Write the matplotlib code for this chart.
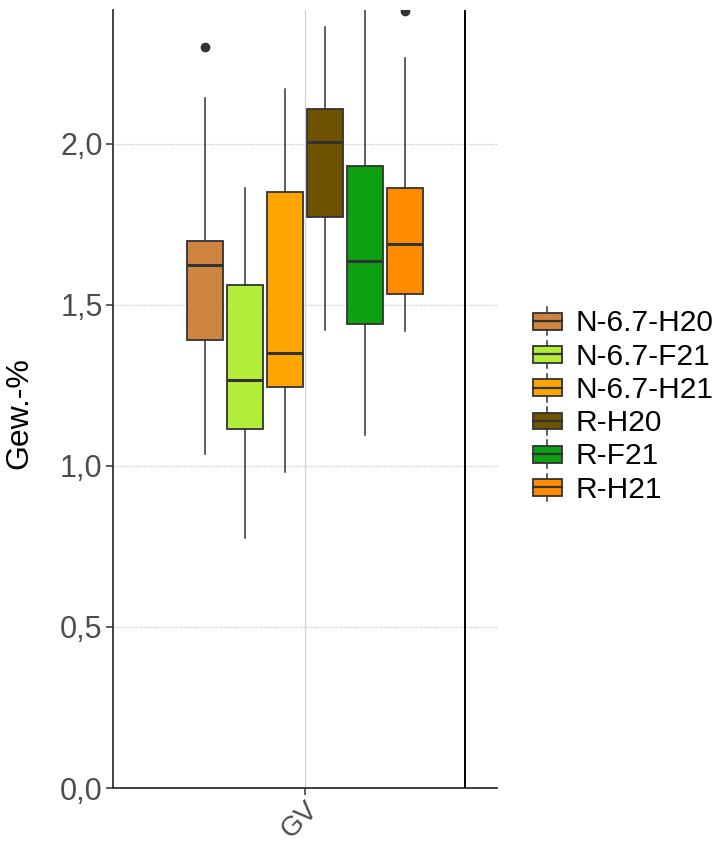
import matplotlib
matplotlib.use('Agg')
import matplotlib.pyplot as plt
from matplotlib.legend_handler import HandlerBase
from matplotlib.lines import Line2D
from matplotlib.patches import Patch, Rectangle

plt.rcParams['font.family'] = ['Liberation Sans', 'DejaVu Sans']

# values
groups = ['N-6.7-H20', 'N-6.7-F21', 'N-6.7-H21', 'R-H20', 'R-F21', 'R-H21']
colors = ['#CD853F', '#B3EE3A', '#FFA500', '#6E5200', '#0DA111', '#FF8C00']
whislo = [1.036, 0.776, 0.981, 1.422, 1.096, 1.419]
q1 = [1.392, 1.115, 1.245, 1.774, 1.441, 1.535]
med = [1.624, 1.266, 1.351, 2.005, 1.638, 1.689]
q3 = [1.700, 1.562, 1.851, 2.109, 1.931, 1.864]
whishi = [2.143, 1.862, 2.171, 2.364, 2.450, 2.267]
fliers = [[2.302], [], [], [], [], [2.413]]
category = 'GV'
yticks = [0.0, 0.5, 1.0, 1.5, 2.0]

EDGE = '#333333'


class BoxKey(HandlerBase):
    def create_artists(self, legend, orig, xd, yd, w, h, fs, trans):
        cx = -xd + w / 2
        y0 = -yd
        bh = h * 0.57
        by = y0 + (h - bh) / 2
        top = Line2D([cx, cx], [by + bh, y0 + h * 0.97], color=EDGE, lw=1.1, transform=trans)
        bot = Line2D([cx, cx], [by, y0 + h * 0.03], color=EDGE, lw=1.1, transform=trans)
        box = Rectangle((-xd, by), w, bh, facecolor=orig.get_facecolor(),
                        edgecolor=EDGE, lw=1.3, transform=trans)
        mid = Line2D([-xd, -xd + w], [by + bh / 2] * 2, color=EDGE, lw=1.6, transform=trans)
        return [top, bot, box, mid]


fig = plt.figure(figsize=(7.21, 8.43), dpi=100)
ax = fig.add_axes([113 / 721, 55 / 843, 384 / 721, 778 / 843])

step = 0.125
positions = [1 + (i - 2.5) * step for i in range(len(groups))]
stats = []
for i, g in enumerate(groups):
    stats.append({'label': g, 'whislo': whislo[i], 'q1': q1[i], 'med': med[i],
                  'q3': q3[i], 'whishi': whishi[i], 'fliers': fliers[i]})

bp = ax.bxp(stats, positions=positions, widths=step * 0.9, patch_artist=True,
            showcaps=False, manage_ticks=False,
            boxprops=dict(edgecolor=EDGE, linewidth=1.3),
            medianprops=dict(color=EDGE, linewidth=2.2),
            whiskerprops=dict(color=EDGE, linewidth=1.1),
            flierprops=dict(marker='o', markerfacecolor=EDGE, markeredgecolor=EDGE,
                            markersize=6))
for patch, c in zip(bp['boxes'], colors):
    patch.set_facecolor(c)

ax.axvline(1.5, color='black', lw=1.4, zorder=3)

ax.set_xlim(0.4, 1.6)
ax.set_ylim(0, 2.416)
ax.set_xticks([1])
ax.set_xticklabels([category], rotation=45, ha='right', va='top', rotation_mode='anchor')
ax.set_yticks(yticks)
ax.set_yticklabels([f'{v:.1f}'.replace('.', ',') for v in yticks])

ax.grid(axis='y', color='#CCCCCC', linestyle=(0, (1, 1)), lw=0.9)
ax.grid(axis='x', color='#D3D3D3', linestyle='-', lw=0.9)
ax.set_axisbelow(True)

for s in ['top', 'right']:
    ax.spines[s].set_visible(False)
for s in ['left', 'bottom']:
    ax.spines[s].set_color(EDGE)
    ax.spines[s].set_linewidth(1.3)
ax.tick_params(length=5, width=1.1, color=EDGE, labelcolor='#4D4D4D',
               labelsize=22, pad=2.5)
ax.tick_params(axis='x', pad=1.0, labelsize=20)

ax.set_ylabel('Gew.-%', fontsize=23, color='black')
ax.yaxis.set_label_coords(-0.205, 0.482)

handles = [Patch(facecolor=c, edgecolor=EDGE) for c in colors]
fig.legend(handles, groups, loc='center left', bbox_to_anchor=(533 / 721, 1 - 405 / 843),
           frameon=False, fontsize=21.5, handler_map={Patch: BoxKey()},
           handlelength=0.96, handleheight=1.14, handletextpad=0.45,
           labelspacing=0.08, borderpad=0, borderaxespad=0)

fig.savefig('out.png', dpi=100, facecolor='white')
